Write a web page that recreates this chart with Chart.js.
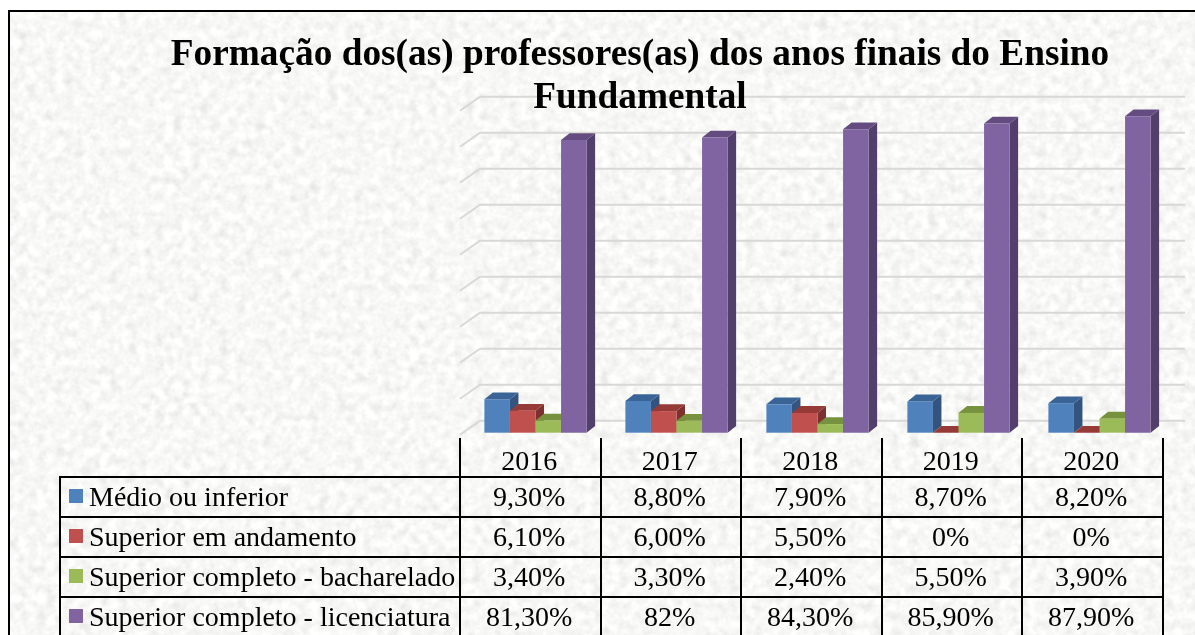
<!DOCTYPE html>
<html>
<head>
<meta charset="utf-8">
<script src="https://cdn.jsdelivr.net/npm/chart.js@4"></script>
<style>
  html, body { margin: 0; padding: 0; background: #fff; overflow: hidden; }
  #frame {
    position: absolute; left: 8px; top: 10px; width: 1187px; height: 625px;
    border-left: 2px solid #000; border-top: 2px solid #000; box-sizing: border-box;
    background-color: #efefed;
    background-image: url("data:image/svg+xml,%3Csvg xmlns='http://www.w3.org/2000/svg' width='1200' height='640'%3E%3Cfilter id='n' x='0' y='0' width='100%25' height='100%25'%3E%3CfeTurbulence type='fractalNoise' baseFrequency='0.11' numOctaves='4' seed='7'/%3E%3CfeColorMatrix values='0.18 0.18 0.18 0 0.665 0.18 0.18 0.18 0 0.665 0.18 0.18 0.18 0 0.655 0 0 0 0 1'/%3E%3C/filter%3E%3Crect width='1200' height='640' filter='url(%23n)'/%3E%3C/svg%3E");
  }
  #chart { position: absolute; left: 0; top: 0; }
  #title {
    position: absolute; left: 140px; width: 1000px; top: 31px; text-align: center;
    font: bold 37.3px/43px "Liberation Serif", serif; color: #000;
  }
  #data { position: absolute; left: 0; top: 0; font: 28px "Liberation Serif", serif; color: #000; }
  #data div { position: absolute; box-sizing: border-box; white-space: nowrap; }
  .cell { text-align: center; line-height: 40px; height: 40px; }
  .name { line-height: 40px; height: 40px; }
  .key { width: 14px; height: 14px; }
  .rule { background: #000; }
</style>
</head>
<body>
<div id="frame"></div>
<canvas id="chart" width="1195" height="635"></canvas>
<div id="title">Formação dos(as) professores(as) dos anos finais do Ensino<br>Fundamental</div>
<div id="data"></div>
<script>
const years = ['2016', '2017', '2018', '2019', '2020'];
const seriesNames = ['Médio ou inferior', 'Superior em andamento', 'Superior completo - bacharelado', 'Superior completo - licenciatura'];

const medio = [9.3, 8.8, 7.9, 8.7, 8.2];
const andamento = [6.1, 6.0, 5.5, 0, 0];
const bacharelado = [3.4, 3.3, 2.4, 5.5, 3.9];
const licenciatura = [81.3, 82, 84.3, 85.9, 87.9];

// as printed in the data table
const medioText = ['9,30%', '8,80%', '7,90%', '8,70%', '8,20%'];
const andamentoText = ['6,10%', '6,00%', '5,50%', '0%', '0%'];
const bachareladoText = ['3,40%', '3,30%', '2,40%', '5,50%', '3,90%'];
const licenciaturaText = ['81,30%', '82%', '84,30%', '85,90%', '87,90%'];

const front = ['#4f81bd', '#c0504d', '#9bbb59', '#8064a2'];
const top3d = ['#3a6396', '#963a38', '#76923f', '#644c80'];
const side3d = ['#33547f', '#7e302e', '#637b35', '#533f6c'];

// bar depth and wall depth of the fake 3D
const barDx = 8.5, barDy = 6.8;
const wallDx = 20, wallDy = 12;

const fake3d = {
  id: 'fake3d',
  beforeDatasetsDraw(chart) {
    const ctx = chart.ctx;
    const y = chart.scales.y;
    const area = chart.chartArea;

    // back wall gridlines with the short diagonal on the left
    ctx.save();
    ctx.strokeStyle = '#d8d8d5';
    ctx.lineWidth = 2;
    y.ticks.forEach(t => {
      const py = y.getPixelForValue(t.value);
      ctx.beginPath();
      ctx.moveTo(area.left - 5, py + 2);
      ctx.lineTo(area.left - 5 + wallDx, py - wallDy);
      ctx.lineTo(area.right + 15, py - wallDy);
      ctx.stroke();
    });
    ctx.restore();

    // left to right so every bar covers the side of the one before it
    chart.data.datasets.forEach((ds, d) => {
      const meta = chart.getDatasetMeta(d);
      meta.data.forEach(bar => {
        const l = bar.x - bar.width / 2, r = bar.x + bar.width / 2;
        ctx.fillStyle = side3d[d];
        ctx.beginPath();
        ctx.moveTo(r, bar.y);
        ctx.lineTo(r + barDx, bar.y - barDy);
        ctx.lineTo(r + barDx, bar.base - barDy);
        ctx.lineTo(r, bar.base);
        ctx.closePath();
        ctx.fill();
        ctx.fillStyle = top3d[d];
        ctx.beginPath();
        ctx.moveTo(l, bar.y);
        ctx.lineTo(l + barDx, bar.y - barDy);
        ctx.lineTo(r + barDx, bar.y - barDy);
        ctx.lineTo(r, bar.y);
        ctx.closePath();
        ctx.fill();
        bar.draw(ctx);
      });
    });
    return false;
  }
};

new Chart(document.getElementById('chart'), {
  type: 'bar',
  data: {
    labels: years,
    datasets: [medio, andamento, bacharelado, licenciatura].map((values, i) => ({
      label: seriesNames[i],
      data: values,
      backgroundColor: front[i],
      categoryPercentage: 0.725,
      barPercentage: 1
    }))
  },
  options: {
    responsive: false,
    animation: false,
    layout: { padding: { left: 465, right: 25, top: 108.7, bottom: 202.3 } },
    plugins: { legend: { display: false }, title: { display: false }, tooltip: { enabled: false } },
    scales: {
      x: { display: false },
      y: { display: false, min: 0, max: 90, ticks: { stepSize: 10 } }
    }
  },
  plugins: [fake3d]
});

// data table under the plot
const table = document.getElementById('data');
const colX = [460, 600.5, 741, 881.5, 1022, 1162.5];
const rowY = [477, 517, 557, 597];
const rowText = [medioText, andamentoText, bachareladoText, licenciaturaText];

function add(cls, css, text) {
  const el = document.createElement('div');
  el.className = cls;
  el.style.cssText = css;
  if (text) el.textContent = text;
  table.appendChild(el);
}

years.forEach((year, i) => {
  add('cell', `left:${colX[i] - 1}px;top:441px;width:${colX[i + 1] - colX[i]}px`, year);
});
seriesNames.forEach((name, r) => {
  add('key', `left:69px;top:${rowY[r] + 12}px;background:${front[r]}`);
  add('name', `left:89px;top:${rowY[r]}px`, name);
  rowText[r].forEach((text, i) => {
    add('cell', `left:${colX[i] - 1}px;top:${rowY[r]}px;width:${colX[i + 1] - colX[i]}px`, text);
  });
});
rowY.forEach(y => add('rule', `left:59px;top:${y - 1}px;width:1105px;height:2px`));
add('rule', 'left:59px;top:476px;width:2px;height:159px');
colX.forEach(x => add('rule', `left:${x - 1}px;top:438px;width:2px;height:197px`));
</script>
</body>
</html>
